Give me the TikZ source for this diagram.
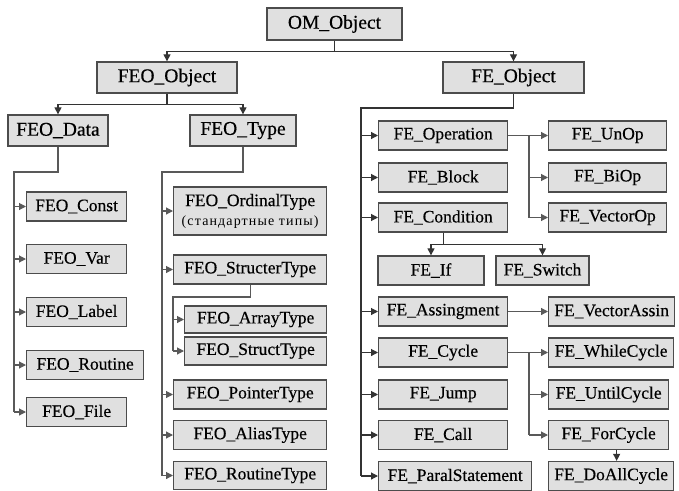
\documentclass[tikz,border=0pt]{standalone}
\usepackage{fontspec}
\setmainfont{Liberation Serif}
\newfontfamily\boxfont[FakeBold=0.4]{Liberation Serif}
\newfontfamily\cyrfont[LetterSpace=8]{Liberation Serif}
\usetikzlibrary{arrows.meta, positioning}

\begin{document}
\begin{tikzpicture}[
    x=1pt, y=-1pt,
    every node/.style={font=\boxfont\fontsize{17.5}{19}\selectfont},
    cls/.style={rectangle, draw=black!70, fill=black!12, line width=1.3pt, minimum height=29pt, inner sep=0pt},
    leftcls/.style={cls, anchor=west},
    topcls/.style={cls, minimum height=31pt, font=\boxfont\fontsize{19.5}{21}\selectfont},
    link/.style={line width=1.15pt, black!65},
    toplink/.style={link, black!80},
    arrow/.style={link, -{Triangle[length=7pt, width=7pt]}},
    toparrow/.style={toplink, -{Triangle[length=7pt, width=7pt]}}
]
\useasboundingbox (0,0) rectangle (679,490);

% ============ Root and first level ============
\node[topcls, minimum width=135pt, minimum height=32pt] (om) at (334.5,24) {OM\_Object};
\node[topcls, minimum width=140pt] (feoobj) at (167,77.5) {FEO\_Object};
\node[topcls, minimum width=141pt] (feobj) at (513.5,77.5) {FE\_Object};

\draw[toparrow] (om.south) -- ++(0,11) -| (feoobj.north);
\draw[toparrow] (om.south) -- ++(0,11) -| (feobj.north);

% ============ FEO_Object ============
\node[topcls, minimum width=100pt] (feodata) at (58,130.5) {FEO\_Data};
\node[topcls, minimum width=106pt] (feotype) at (243,130.5) {FEO\_Type};

\draw[toparrow] (feoobj.south) -- ++(0,11) -| (feodata.north);
\draw[toparrow] (feoobj.south) -- ++(0,11) -| (feotype.north);

% FEO_Data children
\node[leftcls, minimum width=100pt] (const) at (26,206.5) {FEO\_Const};
\node[leftcls, minimum width=100pt] (var) at (26,259) {FEO\_Var};
\node[leftcls, minimum width=100pt] (label) at (26,312) {FEO\_Label};
\node[leftcls, minimum width=117pt] (routine) at (26,365) {FEO\_Routine};
\node[leftcls, minimum width=100pt] (file) at (26,412) {FEO\_File};

\coordinate (databus) at (14,172);
\draw[link] (feodata.south) |- (databus) -- (databus |- file.west);
\foreach \n in {const,var,label,routine,file}
    \draw[arrow] (databus |- \n.west) -- (\n.west);

% FEO_Type children
\node[leftcls, minimum width=153pt, minimum height=48pt, align=center] (ordinal) at (173,211)
    {FEO\_OrdinalType\\{\cyrfont\fontsize{14}{16}\selectfont (стандартные типы)}};
\node[leftcls, minimum width=153pt] (structer) at (173,269.5) {FEO\_StructerType};
\node[leftcls, minimum width=142pt, minimum height=27pt] (array) at (184,319.5) {FEO\_ArrayType};
\node[leftcls, minimum width=142pt, minimum height=28pt] (struct) at (184,351) {FEO\_StructType};
\node[leftcls, minimum width=153pt] (pointer) at (173,394.5) {FEO\_PointerType};
\node[leftcls, minimum width=153pt] (alias) at (173,435) {FEO\_AliasType};
\node[leftcls, minimum width=153pt, minimum height=28pt] (routinetype) at (173,475.5) {FEO\_RoutineType};

\coordinate (typebus) at (162,172);
\draw[link] (feotype.south) |- (typebus) -- (typebus |- routinetype.west);
\foreach \n in {ordinal,structer,pointer,alias,routinetype}
    \draw[arrow] (typebus |- \n.west) -- (\n.west);

\coordinate (structbus) at (173,297);
\draw[link] (structer.south) |- (structbus) -- (structbus |- struct.west);
\foreach \n in {array,struct}
    \draw[arrow] (structbus |- \n.west) -- (\n.west);

% ============ FE_Object ============
\node[leftcls, minimum width=129pt] (operation) at (378,135.5) {FE\_Operation};
\node[leftcls, minimum width=129pt] (block) at (378,177.5) {FE\_Block};
\node[leftcls, minimum width=129pt] (condition) at (378,217.5) {FE\_Condition};
\node[cls, minimum width=106pt] (feif) at (431,270.5) {FE\_If};
\node[cls, minimum width=93pt] (feswitch) at (542.5,270.5) {FE\_Switch};
\node[leftcls, minimum width=129pt] (assingment) at (378,311.5) {FE\_Assingment};
\node[leftcls, minimum width=129pt] (cycle) at (378,352.5) {FE\_Cycle};
\node[leftcls, minimum width=129pt] (jump) at (378,394.5) {FE\_Jump};
\node[leftcls, minimum width=129pt] (call) at (378,435) {FE\_Call};
\node[leftcls, minimum width=153pt] (paral) at (378,476) {FE\_ParalStatement};

\coordinate (febus) at (361,108);
\draw[toplink] (feobj.south) |- (febus) -- (febus |- paral.west);
\foreach \n in {operation,block,condition,assingment,cycle,jump,call,paral}
    \draw[toparrow] (febus |- \n.west) -- (\n.west);

% operations
\node[leftcls, minimum width=118pt] (unop) at (548,135.5) {FE\_UnOp};
\node[leftcls, minimum width=118pt] (biop) at (548,177.5) {FE\_BiOp};
\node[leftcls, minimum width=118pt] (vectorop) at (548,217.5) {FE\_VectorOp};

\coordinate (opbus) at (529,135.5);
\draw[arrow] (operation.east) -- (unop.west);
\draw[link] (opbus) -- (opbus |- vectorop.west);
\foreach \n in {biop,vectorop}
    \draw[arrow] (opbus |- \n.west) -- (\n.west);

% condition
\draw[toplink] (condition.south) -- ++(0,12) coordinate (condbus);
\draw[toparrow] (condbus) -| (feif.north);
\draw[toparrow] (condbus) -| (feswitch.north);

% assignment
\node[leftcls, minimum width=126pt] (vectorassin) at (548,311.5) {FE\_VectorAssin};
\draw[arrow] (assingment.east) -- (vectorassin.west);

% cycles
\node[leftcls, minimum width=125pt] (whilecycle) at (548,352.5) {FE\_WhileCycle};
\node[leftcls, minimum width=120pt] (untilcycle) at (548,394.5) {FE\_UntilCycle};
\node[leftcls, minimum width=120pt] (forcycle) at (548,435) {FE\_ForCycle};
\node[leftcls, minimum width=125pt] (doall) at (548,476) {FE\_DoAllCycle};

\coordinate (cyclebus) at (529,352.5);
\draw[arrow] (cycle.east) -- (whilecycle.west);
\draw[link] (cyclebus) -- (cyclebus |- forcycle.west);
\foreach \n in {untilcycle,forcycle}
    \draw[arrow] (cyclebus |- \n.west) -- (\n.west);
\draw[toparrow] ([xshift=8pt]forcycle.south) -- ([xshift=8pt]forcycle.south |- doall.north);

\end{tikzpicture}
\end{document}
